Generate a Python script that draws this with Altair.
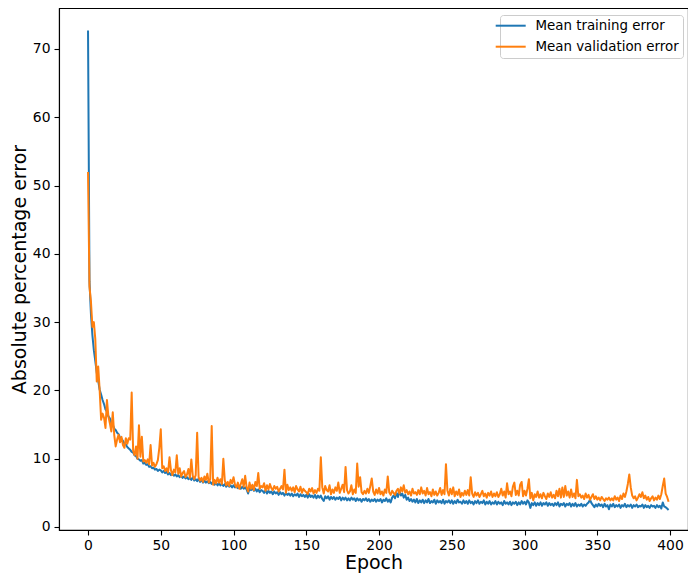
import altair as alt
import pandas as pd

train = [
    72.7, 36.0, 31.2, 28.1, 25.9, 24.3, 22.6, 21.4, 20.1, 19.4,
    18.6, 18.0, 17.2, 16.9, 16.2, 15.9, 15.2, 15.0, 14.4, 14.2,
    13.8, 13.6, 13.1, 12.9, 12.6, 12.2, 12.1, 11.7, 11.5, 11.3,
    11.0, 10.9, 10.5, 10.4, 10.0, 9.9, 9.7, 9.8, 9.3, 9.4,
    9.1, 9.2, 8.8, 8.9, 8.6, 8.7, 8.4, 8.5, 8.2, 8.4,
    8.3, 8.0, 8.2, 7.9, 8.1, 7.7, 7.9, 7.6, 7.8, 7.5,
    7.7, 7.4, 7.6, 7.3, 7.5, 7.2, 7.4, 7.1, 7.3, 7.0,
    7.2, 6.9, 7.3, 6.8, 7.0, 6.7, 7.1, 6.6, 6.9, 6.5,
    6.8, 6.5, 6.7, 6.4, 6.6, 6.3, 6.6, 6.2, 6.5, 6.1,
    6.4, 6.1, 6.3, 6.0, 6.3, 5.9, 6.2, 5.9, 6.1, 5.8,
    6.1, 5.8, 6.0, 5.7, 6.0, 5.6, 5.9, 5.6, 5.8, 5.5,
    4.9, 5.6, 5.4, 5.7, 5.3, 5.6, 5.2, 5.5, 5.1, 5.4,
    5.3, 5.0, 5.4, 4.9, 5.3, 5.0, 5.2, 4.8, 5.2, 4.9,
    5.1, 4.7, 5.1, 4.8, 5.0, 4.6, 5.0, 4.7, 4.9, 4.6,
    4.9, 4.5, 4.8, 4.6, 4.9, 4.4, 4.8, 4.5, 4.7, 4.4,
    4.7, 4.3, 4.8, 4.4, 4.6, 4.3, 4.7, 4.2, 4.6, 4.3,
    4.6, 4.1, 3.8, 4.5, 4.2, 4.5, 4.0, 4.4, 4.1, 4.4,
    4.0, 4.3, 4.1, 4.4, 3.9, 4.3, 4.0, 4.3, 3.9, 4.2,
    3.9, 4.3, 4.0, 4.2, 3.8, 4.2, 3.9, 4.1, 3.7, 4.1,
    3.9, 4.2, 3.8, 4.1, 3.7, 4.0, 3.8, 4.1, 3.7, 4.0,
    3.8, 4.1, 3.6, 4.0, 3.8, 4.2, 3.7, 4.0, 3.6, 4.3,
    4.6, 4.2, 5.0, 4.4, 5.3, 4.6, 4.9, 4.3, 4.7, 4.0,
    4.3, 3.8, 4.1, 3.7, 4.0, 3.6, 4.1, 3.5, 3.9, 3.6,
    4.0, 3.5, 3.9, 3.6, 4.1, 3.5, 3.8, 3.6, 4.0, 3.4,
    3.9, 3.6, 3.8, 3.5, 4.0, 3.4, 3.8, 3.6, 3.9, 3.5,
    3.9, 3.4, 3.8, 3.5, 4.0, 3.6, 3.7, 3.4, 3.9, 3.5,
    3.8, 3.4, 3.9, 3.5, 3.7, 3.3, 3.8, 3.5, 3.9, 3.4,
    3.7, 3.5, 3.9, 3.3, 3.7, 3.4, 3.8, 3.3, 3.6, 3.4,
    3.8, 3.3, 3.7, 3.4, 3.6, 3.2, 3.8, 3.4, 3.6, 3.3,
    3.7, 3.2, 3.6, 3.4, 3.7, 3.2, 3.6, 3.3, 3.8, 3.4,
    3.7, 3.3, 3.9, 3.6, 2.8, 3.5, 3.2, 3.6, 3.1, 3.5,
    3.2, 3.6, 3.1, 3.5, 3.3, 3.6, 3.1, 3.5, 3.2, 3.4,
    3.1, 3.5, 3.2, 3.6, 3.0, 3.4, 3.2, 3.5, 3.0, 3.4,
    3.2, 3.5, 3.0, 3.4, 3.1, 3.5, 3.0, 3.3, 3.1, 3.4,
    3.0, 3.3, 3.1, 3.4, 3.6, 4.0, 3.5, 3.2, 2.9, 3.3,
    3.0, 3.4, 3.1, 3.3, 2.9, 3.4, 3.0, 3.2, 2.6, 3.3,
    3.0, 3.4, 2.9, 3.2, 3.0, 3.3, 2.8, 3.2, 3.0, 3.4,
    2.9, 3.2, 3.0, 3.3, 2.8, 3.2, 3.0, 3.3, 2.9, 3.1,
    3.0, 3.3, 2.8, 3.2, 2.9, 3.1, 2.8, 3.2, 3.0, 3.1,
    2.8, 3.2, 2.9, 3.1, 2.7, 3.6, 3.0, 2.9, 2.7, 2.5,
]

valid = [
    52.0, 35.2, 33.0, 29.3, 30.0, 27.5, 21.3, 23.5, 20.0, 15.7,
    16.6, 16.0, 14.5, 18.6, 16.2, 15.2, 14.0, 16.8, 13.5, 11.8,
    12.8, 13.5, 12.4, 13.2, 12.0, 11.6, 13.0, 12.2, 13.0, 12.8,
    19.7, 11.2, 10.5, 11.8, 10.0, 14.9, 10.3, 13.2, 9.6, 9.8,
    9.4, 9.9, 9.2, 12.0, 9.0, 9.4, 8.8, 9.2, 9.8, 11.6,
    14.3, 8.6, 8.9, 8.2, 8.6, 8.0, 10.2, 8.3, 7.6, 8.4,
    8.0, 10.5, 7.8, 8.6, 7.4, 7.9, 8.2, 7.3, 7.7, 8.5,
    7.2, 9.9, 7.5, 7.0, 7.6, 13.8, 7.3, 6.8, 7.2, 6.6,
    7.4, 6.9, 7.8, 6.5, 7.0, 14.8, 6.2, 6.9, 6.4, 7.2,
    6.5, 7.0, 6.3, 10.0, 6.8, 6.1, 6.6, 6.0, 6.9, 6.4,
    7.3, 6.2, 5.8, 6.5, 5.6, 6.3, 7.0, 5.9, 7.5, 5.8,
    5.2, 6.5, 5.6, 6.2, 5.4, 6.6, 6.0, 7.9, 5.6, 6.0,
    5.8, 6.4, 5.3, 6.1, 5.5, 6.3, 5.7, 5.4, 6.0, 5.6,
    5.9, 5.2, 5.6, 6.0, 5.5, 8.4, 5.0, 6.2, 5.4, 5.8,
    5.3, 5.8, 5.1, 6.0, 5.5, 5.2, 5.9, 5.0, 5.6, 5.3,
    5.1, 4.8, 5.6, 5.2, 5.7, 4.9, 5.4, 5.0, 5.6, 5.3,
    10.2, 5.8, 4.9, 6.0, 5.4, 5.2, 6.1, 4.8, 5.5, 5.0,
    5.8, 5.3, 6.5, 5.0, 5.6, 6.2, 5.1, 8.8, 5.4, 4.9,
    5.2, 6.1, 4.8, 5.5, 5.0, 9.3, 5.9, 7.3, 5.1, 4.8,
    5.3, 4.9, 5.6, 5.0, 6.0, 7.1, 5.2, 4.7, 5.5, 4.9,
    5.7, 4.8, 5.2, 4.6, 5.5, 5.0, 7.4, 5.1, 4.7, 5.3,
    5.0, 4.7, 5.3, 5.6, 4.9, 5.8, 5.2, 6.1, 5.0, 5.4,
    4.8, 5.2, 4.6, 5.6, 4.9, 5.1, 4.7, 5.4, 4.8, 5.8,
    4.9, 5.3, 4.6, 5.7, 4.8, 5.1, 4.5, 5.5, 4.7, 5.2,
    4.6, 5.0, 5.7, 4.7, 5.4, 4.8, 9.2, 5.3, 4.6, 5.6,
    4.8, 5.8, 4.5, 5.2, 4.7, 5.5, 4.4, 5.0, 4.6, 5.3,
    4.7, 5.4, 4.6, 7.3, 4.9, 4.4, 5.1, 4.6, 5.0, 4.4,
    4.8, 5.3, 4.5, 4.9, 4.3, 5.0, 4.6, 5.2, 4.4, 4.9,
    4.5, 5.1, 4.4, 4.8, 5.6, 4.6, 5.2, 4.3, 6.4, 4.8,
    5.2, 4.5, 5.9, 6.5, 4.7, 5.3, 4.6, 6.2, 6.6, 4.5,
    5.3, 4.6, 5.6, 7.0, 4.2, 5.0, 3.9, 4.8, 4.4, 5.2,
    4.3, 4.8, 4.2, 5.0, 4.5, 4.1, 4.9, 4.4, 5.1, 4.3,
    4.7, 4.2, 5.3, 4.5, 5.6, 4.3, 5.8, 4.4, 6.0, 4.6,
    5.2, 4.3, 5.5, 4.4, 4.9, 4.2, 6.9, 4.5, 4.8, 4.3,
    4.6, 4.1, 4.9, 4.3, 4.7, 4.0, 4.4, 4.8, 4.1, 4.5,
    4.0, 4.3, 3.9, 4.4, 4.1, 3.8, 4.2, 4.0, 4.3, 3.9,
    4.2, 3.9, 4.5, 4.0, 4.3, 3.8, 4.6, 4.1, 4.9, 4.4,
    5.2, 6.3, 7.7, 5.8, 4.6, 4.2, 4.5, 3.9, 4.3, 4.8,
    4.4, 5.1, 4.2, 4.6, 4.0, 4.4, 3.8, 4.2, 4.5, 3.9,
    4.3, 4.0, 4.6, 4.1, 4.8, 6.0, 7.1, 4.9, 4.4, 3.7,
]

series_names = ["Mean training error", "Mean validation error"]
series_colors = ["#1f77b4", "#ff7f0e"]
x_ticks = [0, 50, 100, 150, 200, 250, 300, 350, 400]
y_ticks = [0, 10, 20, 30, 40, 50, 60, 70]

epochs = list(range(len(train)))
df = pd.concat([
    pd.DataFrame({"epoch": epochs, "value": train, "series": series_names[0], "order": 0}),
    pd.DataFrame({"epoch": epochs, "value": valid, "series": series_names[1], "order": 1}),
])

FONT = "DejaVu Sans"

chart = alt.Chart(df).mark_line(strokeWidth=2, strokeJoin="round").encode(
    x=alt.X("epoch:Q",
            scale=alt.Scale(domain=[-19.95, 412.35], nice=False, zero=False),
            axis=alt.Axis(title="Epoch", values=x_ticks, format="d")),
    y=alt.Y("value:Q",
            scale=alt.Scale(domain=[-0.44, 76.0], nice=False, zero=False),
            axis=alt.Axis(title="Absolute percentage error", values=y_ticks, format="d")),
    color=alt.Color("series:N",
                    scale=alt.Scale(domain=series_names, range=series_colors),
                    legend=alt.Legend(title=None, orient="none", legendX=441, legendY=7,
                                      symbolType="M-3,0H3", symbolSize=100,
                                      symbolStrokeWidth=2, labelFontSize=13.4,
                                      labelFont=FONT, labelColor="black",
                                      labelOffset=18, rowPadding=6,
                                      padding=4, strokeColor="#cccccc",
                                      fillColor="white", cornerRadius=3)),
    order=alt.Order("order:Q"),
).properties(
    width=629, height=522,
    autosize=alt.AutoSizeParams(type="none"),
    padding={"left": 51, "top": 0, "right": 0, "bottom": 43},
).configure_view(
    stroke="black", strokeWidth=1.1
).configure_axis(
    grid=False,
    domainColor="black", domainWidth=1.1,
    tickColor="black", tickWidth=1.1, tickSize=5,
    labelFont=FONT, labelFontSize=13.9, labelColor="black", labelPadding=3,
    titleFont=FONT, titleFontSize=19, titleFontWeight="normal", titleColor="black",
).configure_axisX(titlePadding=2).configure_axisY(titlePadding=3, labelPadding=4)

chart.save("out.html", embed_options={"renderer": "svg", "actions": False})
